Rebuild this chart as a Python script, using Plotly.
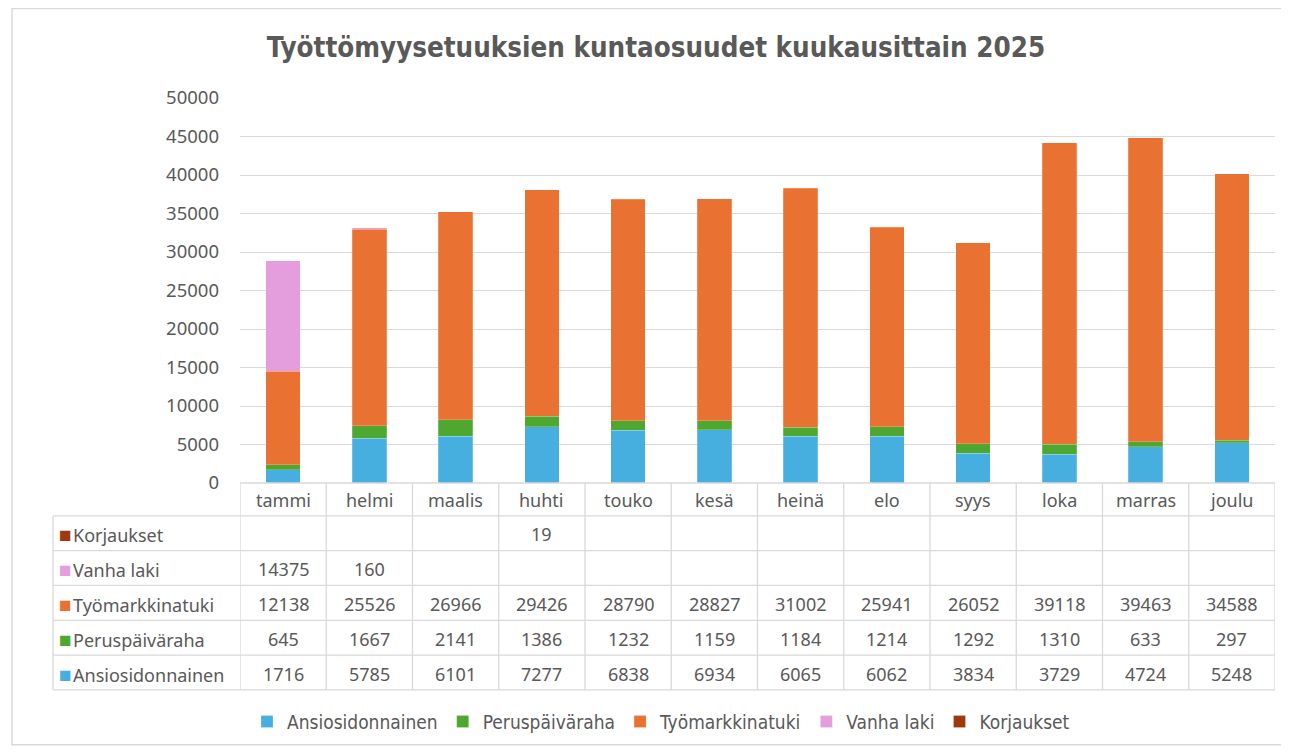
import plotly.graph_objects as go

months = ["tammi", "helmi", "maalis", "huhti", "touko", "kesä",
          "heinä", "elo", "syys", "loka", "marras", "joulu"]

ansiosidonnainen = [1716, 5785, 6101, 7277, 6838, 6934, 6065, 6062, 3834, 3729, 4724, 5248]
peruspaivaraha = [645, 1667, 2141, 1386, 1232, 1159, 1184, 1214, 1292, 1310, 633, 297]
tyomarkkinatuki = [12138, 25526, 26966, 29426, 28790, 28827, 31002, 25941, 26052, 39118, 39463, 34588]
vanha_laki = [14375, 160, None, None, None, None, None, None, None, None, None, None]
korjaukset = [None, None, None, 19, None, None, None, None, None, None, None, None]

y_ticks = list(range(0, 50001, 5000))

series = [
    ("Ansiosidonnainen", ansiosidonnainen, "#47AEE0"),
    ("Peruspäiväraha", peruspaivaraha, "#4EA72E"),
    ("Työmarkkinatuki", tyomarkkinatuki, "#E97132"),
    ("Vanha laki", vanha_laki, "#E59EDD"),
    ("Korjaukset", korjaukset, "#9C3A0E"),
]

# the page body adds an 8px offset, so the figure is drawn 8px smaller
OFF = 8
SCREEN_W, SCREEN_H = 1289, 753
W, H = SCREEN_W - OFF, SCREEN_H - OFF
PLOT_L, PLOT_R, PLOT_T, BASE = 240, 1275, 98, 485  # screen pixels of the plot area
M_L, M_R, M_T, M_B = PLOT_L - OFF, SCREEN_W - PLOT_R, PLOT_T - OFF, SCREEN_H - BASE
PLOT_W = PLOT_R - PLOT_L
PLOT_H = BASE - PLOT_T

GRID = "#D9D9D9"
TEXT = "#595959"
BODY_FONT = "Noto Sans, Lato, sans-serif"
NARROW_FONT = "DejaVu Sans Condensed, Liberation Sans Narrow, sans-serif"


def py(pix):
    """screen pixel row -> paper y"""
    return (BASE - pix) / PLOT_H


def px(pix):
    """screen pixel column -> paper x"""
    return (pix - PLOT_L) / PLOT_W


fig = go.Figure()
for name, vals, color in series:
    fig.add_trace(go.Bar(
        x=months, y=vals, name=name, width=0.4,
        marker=dict(color=color, line=dict(color="rgba(255,255,255,0.35)", width=0.6)),
    ))

# data table under the chart
header_top, header_bot = BASE, 518
row_h = 35
table_left = 53
rows = list(reversed(series))
row_tops = [header_bot + i * row_h for i in range(len(rows))]
table_bot = row_tops[-1] + row_h

shapes = []
line = dict(color=GRID, width=1.3)
for i in range(len(months) + 1):
    shapes.append(dict(type="line", xref="x", yref="paper", x0=i - 0.5, x1=i - 0.5,
                       y0=py(header_top), y1=py(table_bot), line=line))
shapes.append(dict(type="line", xref="paper", yref="paper", x0=px(table_left), x1=px(table_left),
                   y0=py(header_bot), y1=py(table_bot), line=line))
for yy in [header_bot] + [t + row_h for t in row_tops]:
    shapes.append(dict(type="line", xref="paper", yref="paper", x0=px(table_left), x1=1,
                       y0=py(yy), y1=py(yy), line=line))
shapes.append(dict(type="line", xref="paper", yref="paper", x0=0, x1=1,
                   y0=py(header_top), y1=py(header_top), line=line))
# outer chart frame
shapes.append(dict(type="rect", xref="paper", yref="paper", x0=px(12), x1=px(1283),
                   y0=py(8), y1=py(748), line=dict(color=GRID, width=1.5)))

cell_font = dict(size=18, color=TEXT, family=BODY_FONT)
annotations = []
for m in months:
    annotations.append(dict(x=m, xref="x", yref="paper", y=py((header_top + header_bot) / 2 + 1),
                            xanchor="center", yanchor="middle",
                            text=m, showarrow=False, font=cell_font))
for top, (name, vals, color) in zip(row_tops, rows):
    yc = py(top + row_h / 2 + 1)
    annotations.append(dict(x=px(table_left + 4), xref="paper", yref="paper", y=yc,
                            xanchor="left", yanchor="middle",
                            text=(f'<span style="color:{color};font-size:21px">■</span>'
                                  f'<span style="font-size:5px"> </span>{name}'),
                            showarrow=False, font=cell_font))
    for m, v in zip(months, vals):
        if v is None:
            continue
        annotations.append(dict(x=m, xref="x", yref="paper", y=yc, xanchor="center", yanchor="middle",
                                text=str(v), showarrow=False, font=cell_font))

fig.update_layout(
    width=W, height=H,
    margin=dict(l=M_L, r=M_R, t=M_T, b=M_B),
    paper_bgcolor="white", plot_bgcolor="white",
    barmode="stack",
    title=dict(text="<b>Työttömyysetuuksien kuntaosuudet kuukausittain 2025</b>",
               xref="paper", x=px(656), xanchor="center",
               yref="container", y=1 - (47 - OFF) / H, yanchor="middle",
               font=dict(size=27.5, color=TEXT, family=NARROW_FONT)),
    xaxis=dict(showticklabels=False, showgrid=False, showline=False, ticks="",
               range=[-0.5, len(months) - 0.5]),
    yaxis=dict(range=[0, 50000], tickvals=y_ticks, tickformat="d", showgrid=True,
               gridcolor=GRID, gridwidth=1.3, zeroline=False, ticks="", ticklabelstandoff=20,
               tickfont=dict(size=18.5, color=TEXT, family=BODY_FONT)),
    legend=dict(orientation="h", x=px(661), xanchor="center", y=py(725), yanchor="middle",
                font=dict(size=19, color=TEXT, family=NARROW_FONT), traceorder="normal",
                itemwidth=30),
    shapes=shapes,
    annotations=annotations,
    showlegend=True,
)

fig.write_html("out.html")
